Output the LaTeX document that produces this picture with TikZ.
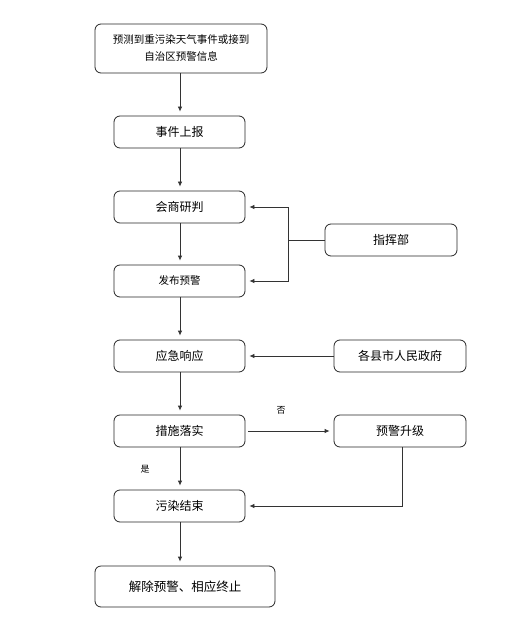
\documentclass[tikz,border=0pt]{standalone}
\usepackage{fontspec}
\newfontfamily\cjk{Noto Sans CJK SC}
\usetikzlibrary{arrows.meta}
\begin{document}
\begin{tikzpicture}[x=1pt,y=-1pt,
  box/.style={draw=black!85,line width=0.8pt,rounded corners=6pt,inner sep=0pt,font=\cjk\fontsize{12}{14}\selectfont},
  arr/.style={draw=black!80,line width=0.8pt,-{Latex[length=5pt,width=4.5pt]},shorten >=4pt},
  ln/.style={draw=black!80,line width=0.8pt},
  lbl/.style={font=\cjk\fontsize{9}{10}\selectfont,inner sep=0pt}]
\useasboundingbox[fill=white] (0,0) rectangle (507,620);
\node[box,minimum width=172pt,minimum height=49pt,align=center,font=\cjk\fontsize{10.5}{17}\selectfont] (a) at (181,48.5) {预测到重污染天气事件或接到\\自治区预警信息};
\node[box,minimum width=131pt,minimum height=32pt] (b) at (179.5,132) {事件上报};
\node[box,minimum width=131pt,minimum height=32pt] (c) at (179.5,207) {会商研判};
\node[box,minimum width=131pt,minimum height=32pt,font=\cjk\fontsize{10.5}{12}\selectfont] (d) at (179.5,281) {发布预警};
\node[box,minimum width=132pt,minimum height=32pt] (e) at (391,240) {指挥部};
\node[box,minimum width=131pt,minimum height=32pt] (f) at (179.5,356) {应急响应};
\node[box,minimum width=132pt,minimum height=32pt] (g) at (400,356) {各县市人民政府};
\node[box,minimum width=131pt,minimum height=32pt] (h) at (179.5,431) {措施落实};
\node[box,minimum width=132pt,minimum height=32pt] (i) at (400,431) {预警升级};
\node[box,minimum width=131pt,minimum height=32pt] (j) at (179.5,506) {污染结束};
\node[box,minimum width=180pt,minimum height=41pt,font=\cjk\fontsize{12.5}{14}\selectfont] (k) at (185,586.5) {解除预警、相应终止};
\coordinate (ax) at (180,0);
\draw[arr] (a.south -| ax) -- (b.north -| ax);
\draw[arr] (b.south -| ax) -- (c.north -| ax);
\draw[arr] (c.south -| ax) -- (d.north -| ax);
\draw[arr] (d.south -| ax) -- (f.north -| ax);
\draw[arr] (f.south -| ax) -- (h.north -| ax);
\draw[arr] (h.south -| ax) -- (j.north -| ax);
\draw[arr] (j.south -| ax) -- (k.north -| ax);
\coordinate (m) at (288,240);
\draw[ln] (e.west) -- (m);
\draw[arr] (m) |- (c.east);
\draw[arr] (m) |- (d.east);
\draw[arr] (g.west) -- (f.east);
\draw[arr,shorten <=3pt] (h.east) -- (i.west);
\coordinate (n) at (402,506);
\draw[arr] (i.south -| n) |- (j.east);
\node[lbl] (no) at (281,410) {否};
\node[lbl] (yes) at (145,469) {是};
\end{tikzpicture}
\end{document}
